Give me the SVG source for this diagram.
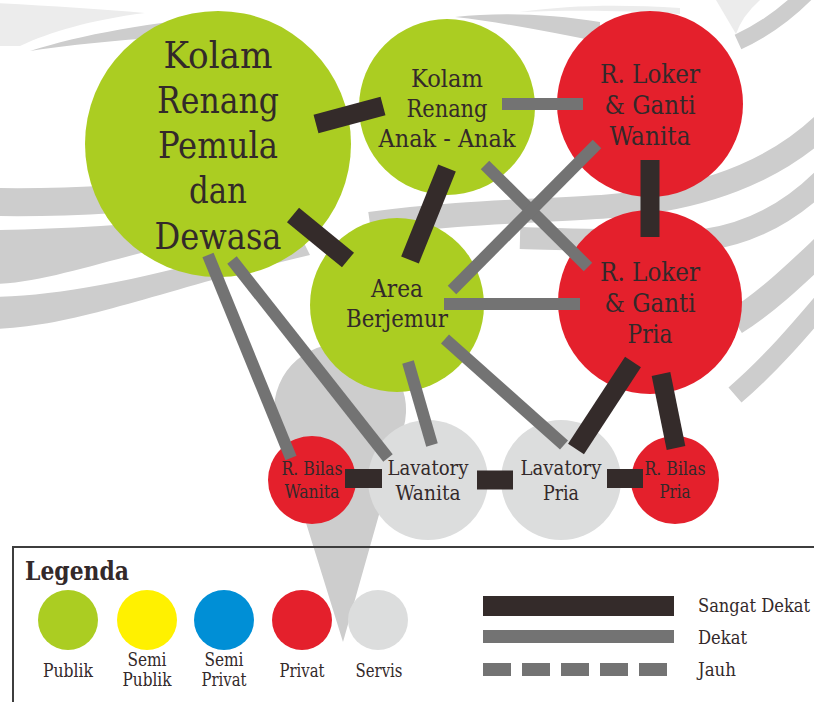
<svg xmlns="http://www.w3.org/2000/svg" width="814" height="702" viewBox="0 0 814 702">
  <style>
    .wm { fill: #cdcdcd; }
    .wm-light { fill: #ececec; }
    .wm-s { fill: none; stroke: #cdcdcd; stroke-linecap: butt; }
    .publik { fill: #abcd22; }
    .semipublik { fill: #fff100; }
    .semiprivat { fill: #008fd6; }
    .privat { fill: #e4202c; }
    .servis { fill: #dcdddd; }
    text { font-family: 'DejaVu Serif', serif; font-stretch: condensed; fill: #33292a; }
    .lbl { text-anchor: middle; }
    .strong { stroke: #342b2a; stroke-width: 19; stroke-linecap: butt; fill: none; }
    .near { stroke: #737373; stroke-width: 12; stroke-linecap: butt; fill: none; }
  </style>

  <rect width="814" height="702" fill="#ffffff"/>

  <!-- background emblem: swooshes and pin -->
  <g id="emblem">
    <path class="wm-light" d="M -5 3 C 50 6 100 9 145 13 C 90 20 50 32 20 46 L -5 46 Z"/>
    <path class="wm" d="M 30 51 C 80 35 150 22 240 14 L 245 33 C 160 36 90 42 30 51 Z"/>
    <path class="wm-light" d="M 520 12 C 570 5 620 4 680 8 L 680 14 C 620 10 570 10 520 12 Z"/>
    <path class="wm" d="M 455 17 C 500 12 550 14 600 22 L 600 42 C 550 32 500 22 455 17 Z"/>
    <path class="wm-light" d="M 716 0 L 760 0 Q 742 16 736 34 Z"/>
    <path class="wm-s" stroke-width="16" d="M 738 42 Q 775 25 806 -6"/>

    <path class="wm-s" stroke-width="28" d="M -5 202 Q 50 203 115 199"/>
    <path class="wm" d="M -5 230 C 60 229 130 226 220 214 L 228 236 C 140 246 60 282 -5 284 Z"/>
    <path class="wm" d="M -5 297 C 70 295 160 276 300 235 L 310 255 C 160 290 80 326 -5 329 Z"/>

    <path class="wm-s" stroke-width="24" d="M 370 224 C 480 208 600 212 660 200 C 730 188 790 160 832 116"/>
    <path class="wm-s" stroke-width="22" d="M 520 238 C 600 240 650 242 705 240 C 760 232 800 205 832 170"/>
    <path class="wm-s" stroke-width="26" d="M 735 322 C 770 300 800 270 832 240"/>
    <path class="wm-s" stroke-width="20" d="M 735 395 C 770 365 800 330 832 292"/>

    <path class="wm" d="M 343 642 L 277 429.5 A 66 66 0 1 1 403.5 428 Z"/>
  </g>

  <!-- rooms -->
  <g id="kolam-dewasa">
    <circle class="publik" cx="218" cy="144" r="133"/>
    <g class="lbl" font-size="37">
      <text x="218" y="68" textLength="109" lengthAdjust="spacingAndGlyphs">Kolam</text>
      <text x="218" y="113" textLength="122" lengthAdjust="spacingAndGlyphs">Renang</text>
      <text x="218" y="158" textLength="120" lengthAdjust="spacingAndGlyphs">Pemula</text>
      <text x="218" y="203" textLength="58" lengthAdjust="spacingAndGlyphs">dan</text>
      <text x="218" y="249" textLength="127" lengthAdjust="spacingAndGlyphs">Dewasa</text>
    </g>
  </g>
  <g id="kolam-anak">
    <circle class="publik" cx="447" cy="107" r="88"/>
    <g class="lbl" font-size="24.6">
      <text x="447" y="87" textLength="72" lengthAdjust="spacingAndGlyphs">Kolam</text>
      <text x="447" y="117" textLength="81" lengthAdjust="spacingAndGlyphs">Renang</text>
      <text x="447" y="147" textLength="137" lengthAdjust="spacingAndGlyphs">Anak - Anak</text>
    </g>
  </g>
  <g id="loker-wanita">
    <circle class="privat" cx="650" cy="104" r="93"/>
    <g class="lbl" font-size="26">
      <text x="650" y="83" textLength="100" lengthAdjust="spacingAndGlyphs">R. Loker</text>
      <text x="650" y="114" textLength="91" lengthAdjust="spacingAndGlyphs">&amp; Ganti</text>
      <text x="650" y="145" textLength="81" lengthAdjust="spacingAndGlyphs">Wanita</text>
    </g>
  </g>
  <g id="area-berjemur">
    <circle class="publik" cx="397" cy="305" r="87"/>
    <g class="lbl" font-size="25">
      <text x="397" y="297" textLength="52" lengthAdjust="spacingAndGlyphs">Area</text>
      <text x="397" y="327" textLength="102" lengthAdjust="spacingAndGlyphs">Berjemur</text>
    </g>
  </g>
  <g id="loker-pria">
    <circle class="privat" cx="650" cy="302" r="92"/>
    <g class="lbl" font-size="26">
      <text x="650" y="281" textLength="100" lengthAdjust="spacingAndGlyphs">R. Loker</text>
      <text x="650" y="312" textLength="91" lengthAdjust="spacingAndGlyphs">&amp; Ganti</text>
      <text x="650" y="343" textLength="45" lengthAdjust="spacingAndGlyphs">Pria</text>
    </g>
  </g>
  <g id="bilas-wanita">
    <circle class="privat" cx="312" cy="480" r="44"/>
    <g class="lbl" font-size="17.7">
      <text x="312" y="475" textLength="61" lengthAdjust="spacingAndGlyphs">R. Bilas</text>
      <text x="312" y="498" textLength="55" lengthAdjust="spacingAndGlyphs">Wanita</text>
    </g>
  </g>
  <g id="lavatory-wanita">
    <circle class="servis" cx="428" cy="480" r="60"/>
    <g class="lbl" font-size="21">
      <text x="428" y="475" textLength="81" lengthAdjust="spacingAndGlyphs">Lavatory</text>
      <text x="428" y="500" textLength="65" lengthAdjust="spacingAndGlyphs">Wanita</text>
    </g>
  </g>
  <g id="lavatory-pria">
    <circle class="servis" cx="561" cy="480" r="60"/>
    <g class="lbl" font-size="21">
      <text x="561" y="475" textLength="81" lengthAdjust="spacingAndGlyphs">Lavatory</text>
      <text x="561" y="500" textLength="36" lengthAdjust="spacingAndGlyphs">Pria</text>
    </g>
  </g>
  <g id="bilas-pria">
    <circle class="privat" cx="675" cy="480" r="44"/>
    <g class="lbl" font-size="17.7">
      <text x="675" y="475" textLength="61" lengthAdjust="spacingAndGlyphs">R. Bilas</text>
      <text x="675" y="498" textLength="31" lengthAdjust="spacingAndGlyphs">Pria</text>
    </g>
  </g>

  <!-- relations -->
  <g id="connectors">
    <line class="near" x1="502" y1="104" x2="583" y2="104"/>
    <line class="near" x1="485" y1="165" x2="588" y2="267"/>
    <line class="near" x1="597" y1="144" x2="452" y2="290"/>
    <line class="near" x1="444" y1="304" x2="580" y2="304"/>
    <line class="near" x1="208" y1="255" x2="291" y2="458"/>
    <line class="near" x1="232" y1="260" x2="388" y2="458"/>
    <line class="near" x1="408" y1="362" x2="432" y2="445"/>
    <line class="near" x1="445" y1="339" x2="564" y2="445"/>

    <line class="strong" x1="316" y1="124" x2="383" y2="106"/>
    <line class="strong" x1="293" y1="215" x2="348" y2="260"/>
    <line class="strong" x1="447" y1="168" x2="410" y2="260"/>
    <line class="strong" x1="650" y1="160" x2="650" y2="237"/>
    <line class="strong" x1="633" y1="362" x2="576" y2="449"/>
    <line class="strong" x1="661" y1="374" x2="676" y2="448"/>
    <line class="strong" x1="345" y1="478.5" x2="382" y2="478.5"/>
    <line class="strong" x1="477" y1="480" x2="513" y2="480"/>
    <line class="strong" x1="607" y1="478.5" x2="643" y2="478.5"/>
  </g>

  <!-- legend -->
  <g id="legend">
    <rect x="13" y="547" width="820" height="170" fill="none" stroke="#3d3d3d" stroke-width="2"/>
    <text x="25" y="580" font-size="26.5" font-weight="bold" textLength="104" lengthAdjust="spacingAndGlyphs">Legenda</text>

    <circle class="publik" cx="68" cy="620" r="30"/>
    <circle class="semipublik" cx="147" cy="620" r="30"/>
    <circle class="semiprivat" cx="224" cy="620" r="30"/>
    <circle class="privat" cx="302" cy="620" r="30"/>
    <circle class="servis" cx="378" cy="620" r="30"/>

    <g class="lbl" font-size="17.7">
      <text x="68" y="677" textLength="50" lengthAdjust="spacingAndGlyphs">Publik</text>
      <text x="147" y="666" textLength="39" lengthAdjust="spacingAndGlyphs">Semi</text>
      <text x="147" y="686" textLength="49" lengthAdjust="spacingAndGlyphs">Publik</text>
      <text x="224" y="666" textLength="39" lengthAdjust="spacingAndGlyphs">Semi</text>
      <text x="224" y="686" textLength="45" lengthAdjust="spacingAndGlyphs">Privat</text>
      <text x="302" y="677" textLength="45" lengthAdjust="spacingAndGlyphs">Privat</text>
      <text x="379" y="677" textLength="47" lengthAdjust="spacingAndGlyphs">Servis</text>
    </g>

    <rect x="483" y="596" width="191" height="20" fill="#342b2a"/>
    <rect x="483" y="630" width="191" height="13" fill="#737373"/>
    <line x1="483" y1="669.5" x2="674" y2="669.5" stroke="#737373" stroke-width="13" stroke-dasharray="28 11"/>

    <g font-size="19">
      <text x="698" y="612" textLength="112" lengthAdjust="spacingAndGlyphs">Sangat Dekat</text>
      <text x="698" y="644" textLength="49" lengthAdjust="spacingAndGlyphs">Dekat</text>
      <text x="698" y="676" textLength="38" lengthAdjust="spacingAndGlyphs">Jauh</text>
    </g>
  </g>
</svg>
